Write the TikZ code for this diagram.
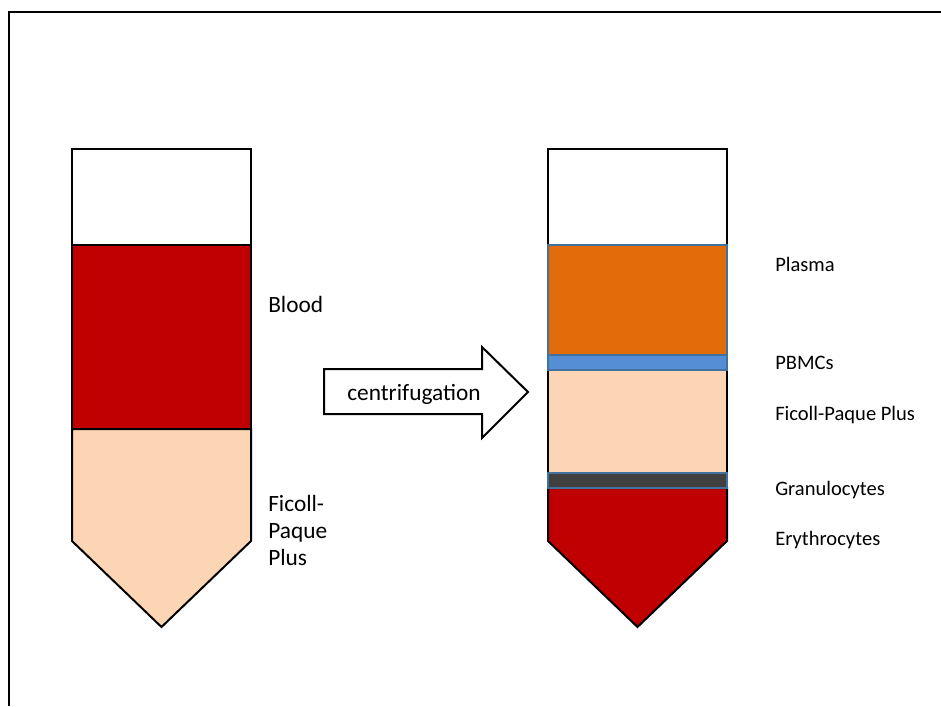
\documentclass[tikz,border=0pt]{standalone}
\usepackage{fontspec}
\setmainfont{Carlito}
\usepackage{tikz}
\usetikzlibrary{calc}

\definecolor{blood}{RGB}{192,0,0}
\definecolor{ficoll}{RGB}{252,213,181}
\definecolor{plasma}{RGB}{227,108,10}
\definecolor{pbmc}{RGB}{85,142,213}
\definecolor{granulo}{RGB}{64,64,64}
\definecolor{bandline}{RGB}{65,113,156}

\begin{document}
\begin{tikzpicture}[
    x=0.75pt, y=-0.75pt,
    tube/.style={draw=black, line width=1.5pt, line join=miter},
    band/.style={draw=bandline, line width=1.5pt},
    lbl/.style={anchor=base west, inner sep=0pt, font=\fontsize{17.5}{20.25}\selectfont, align=left},
    small/.style={lbl, font=\fontsize{15.4}{18}\selectfont},
    frame/.style={draw=black, line width=1.5pt}
]
\useasboundingbox (0,0) rectangle (941,706);
\draw[frame] (9,706) -- (9,12) -- (941,12);

% tube before
\draw[tube, fill=white] (72,149) rectangle (251,245);
\draw[tube, fill=blood] (72,245) rectangle (251,429);
\draw[tube, fill=ficoll] (72,429) -- (251,429) -- (251,541) -- (161.5,627) -- (72,541) -- cycle;
\node[lbl] (blood) at (268,312) {Blood};
\node[lbl] (ficollA) at (268,565) {Ficoll-\\Paque\\Plus};

% arrow
\draw[tube, fill=white] (324,369) -- (482,369) -- (482,347) -- (528,392) -- (482,438) -- (482,414) -- (324,414) -- cycle;
\node[lbl, anchor=base] (spin) at (414,400) {centrifugation};

% tube after
\draw[tube, fill=white] (548,149) rectangle (727,245);
\draw[tube, fill=blood] (548,488) -- (727,488) -- (727,541) -- (637.5,627) -- (548,541) -- cycle;
\fill[ficoll] (548,370) rectangle (727,473);
\draw[tube] (548,245) -- (548,488) (727,245) -- (727,488);
\draw[band, fill=plasma] (548,245) rectangle (727,355);
\draw[band, fill=pbmc] (548,355) rectangle (727,370);
\draw[band, fill=granulo] (548,473) rectangle (727,488);

\node[small] (plasma) at (775,271) {Plasma};
\node[small] (pbmcs) at (775,369) {PBMCs};
\node[small] (ficollB) at (775,420) {Ficoll-Paque Plus};
\node[small] (granulocytes) at (775,495) {Granulocytes};
\node[small] (erythrocytes) at (775,545) {Erythrocytes};
\end{tikzpicture}
\end{document}
